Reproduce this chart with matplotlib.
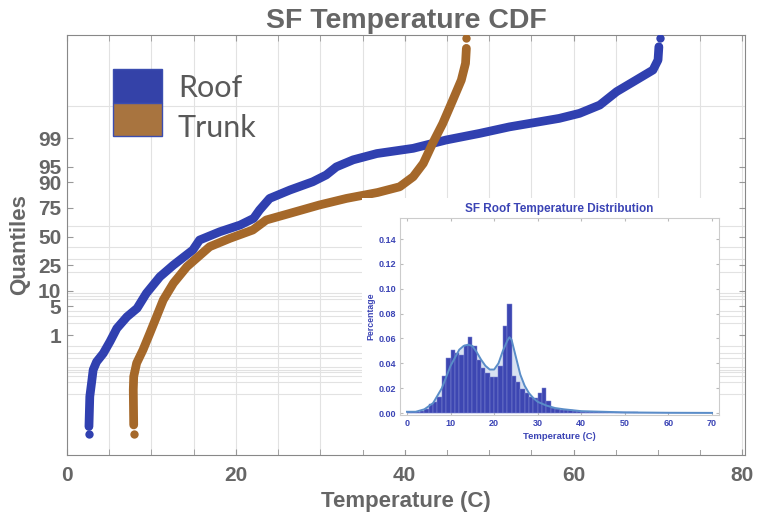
"""
SF temperature CDF on a normal-probability scale, with the roof
temperature histogram pasted as an inset.
"""
from statistics import NormalDist

import numpy as np
import matplotlib
matplotlib.use('Agg')
import matplotlib.pyplot as plt
from matplotlib.patches import Rectangle

# ── Data ─────────────────────────────────────────────────────
# CDF curves: temperature (C) vs cumulative percentage
roof_temp = [2.6, 2.6, 2.7, 2.9, 3.1, 3.5, 4.3, 5.1, 5.9, 7.1, 8.3, 9.4,
             11.0, 12.6, 14.9, 15.7, 18.1, 20.5, 22.1, 22.8, 24.0, 26.4,
             29.1, 30.7, 31.9, 33.9, 36.7, 41.0, 44.9, 48.9, 52.4, 58.3,
             60.7, 63.1, 65.1, 67.4, 69.4, 70.0, 70.1, 70.2]
roof_pct = [0.00015, 0.00036, 0.0078, 0.026, 0.082, 0.154, 0.29, 0.66,
            1.5, 2.9, 4.5, 9.0, 17.1, 25.0, 37.5, 46.7, 54.5, 60.7, 66.6,
            73.4, 81.6, 86.4, 90.2, 92.7, 95.0, 96.5, 97.5, 98.14, 98.87,
            99.26, 99.52, 99.737, 99.819, 99.905, 99.969, 99.989, 99.9958,
            99.99848, 99.99963, 99.999857]

trunk_temp = [7.9, 7.9, 7.85, 7.9, 8.25, 9.0, 9.8, 10.6, 11.4, 12.6, 14.2,
              16.9, 19.3, 22.0, 23.6, 26.4, 29.9, 33.1, 36.8, 39.4, 41.0,
              42.2, 43.3, 44.5, 45.7, 46.7, 47.2, 47.3, 47.2]
trunk_pct = [0.00015, 0.00043, 0.0146, 0.047, 0.14, 0.37, 1.1, 2.9, 6.7,
             13.5, 23.8, 40.5, 48.3, 56.1, 65.2, 70.8, 77.2, 81.6, 85.1,
             88.0, 92.1, 95.8, 98.61, 99.62, 99.937, 99.989, 99.99786,
             99.99956, 99.999857]

quantile_ticks = [1, 5, 10, 25, 50, 75, 90, 95, 99]
grid_levels = [0.01, 0.03, 0.05, 0.07, 0.08, 0.1, 0.2, 0.3, 0.5, 1, 2, 3,
               4, 5, 7, 8, 9, 10, 20, 30, 40, 60, 90, 99, 99.9]
series_names = ['Roof', 'Trunk']

# Inset: histogram (1 C bins starting at 0) and smoothed density
hist_left = list(range(0, 70))
hist_pct = [0.0005, 0.0008, 0.0012, 0.002, 0.0035, 0.0075, 0.009, 0.013,
            0.030, 0.044, 0.051, 0.048, 0.047, 0.055, 0.061, 0.054, 0.043,
            0.036, 0.032, 0.029, 0.029, 0.038, 0.070, 0.088, 0.030, 0.025,
            0.019, 0.016, 0.013, 0.012, 0.016, 0.020, 0.010, 0.004, 0.003,
            0.0028, 0.0025, 0.0022, 0.002, 0.0015, 0.0012, 0.001, 0.0008,
            0.0007, 0.0007, 0.0007, 0.0006, 0.0006, 0.0006, 0.0005, 0.0005,
            0.0005, 0.0005, 0.0004, 0.0004, 0.0004, 0.0004, 0.0004, 0.0003,
            0.0003, 0.0003, 0.0003, 0.0003, 0.0002, 0.0002, 0.0002, 0.0002,
            0.0002, 0.0002, 0.0002]
kde_temp = [0, 2, 4, 6, 8, 10, 12, 13, 14, 15, 16, 17, 18, 19, 20, 21, 22,
            23, 23.5, 24, 25, 26, 27, 28, 29, 30, 32, 34, 36, 40, 50, 60, 70]
kde_pct = [0.001, 0.001, 0.003, 0.008, 0.020, 0.038, 0.051, 0.054, 0.055,
           0.054, 0.049, 0.043, 0.038, 0.035, 0.035, 0.040, 0.050, 0.058,
           0.061, 0.059, 0.045, 0.031, 0.022, 0.016, 0.012, 0.009, 0.006,
           0.004, 0.003, 0.0015, 0.0005, 0.0002, 0.0001]

# ── Style ────────────────────────────────────────────────────
BLUE = '#3040b0'
ORANGE = '#a5682a'
LEG_BLUE = '#3442a8'
LEG_ORANGE = '#a8743f'
GRAY_TXT = '#666666'
INSET_BLUE = '#3b44b5'
BAR_BLUE = '#3d46b2'
KDE_LINE = '#5a8dc8'
GRID = '#e2e2e2'
FONT = 'Liberation Sans'

W, H = 758, 522


def to_z(pct):
    """percent -> standard normal quantile (probability scale)"""
    nd = NormalDist()
    return np.array([nd.inv_cdf(p / 100.0) for p in pct])


def fig_box(left, top, right, bottom):
    """pixel box -> figure fraction rect"""
    return [left / W, (H - bottom) / H, (right - left) / W, (bottom - top) / H]


fig = plt.figure(figsize=(W / 100, H / 100), dpi=100)
plt.rcParams['font.family'] = FONT

# ── Main CDF axes ────────────────────────────────────────────
ax = fig.add_axes(fig_box(67, 35, 745, 455), zorder=1)

for temp, pct, col in [(roof_temp, roof_pct, BLUE), (trunk_temp, trunk_pct, ORANGE)]:
    z = to_z(pct)
    ax.plot(temp[1:-1], z[1:-1], color=col, lw=6.3, solid_capstyle='round',
            solid_joinstyle='round', zorder=3)
    ax.plot([temp[0], temp[-1]], [z[0], z[-1]], 'o', color=col, ms=6,
            mec='none', zorder=3)

ax.set_xlim(0, 80.3)
ax.set_ylim(-5.16, 4.76)
ax.set_xticks([0, 20, 40, 60, 80])
ax.set_xticks(np.arange(5, 80, 5), minor=True)
ax.set_yticks(to_z(quantile_ticks))
ax.set_yticklabels([str(q) for q in quantile_ticks])
ax.set_yticks(to_z(grid_levels), minor=True)

ax.grid(which='both', axis='x', color=GRID, lw=0.8, zorder=0)
ax.grid(which='minor', axis='y', color=GRID, lw=0.8, zorder=0)
ax.tick_params(which='both', direction='in', top=True, right=True,
               length=4, color='#999999', labelsize=15, labelcolor=GRAY_TXT)
ax.tick_params(axis='y', which='minor', length=0)
ax.tick_params(axis='x', pad=8)
ax.tick_params(axis='y', pad=4)
for lab in ax.get_xticklabels() + ax.get_yticklabels():
    lab.set_fontweight('bold')
for sp in ax.spines.values():
    sp.set_color('#888888')

ax.set_title('SF Temperature CDF', fontsize=20.5, fontweight='bold',
             color=GRAY_TXT, pad=5)
ax.set_xlabel('Temperature (C)', fontsize=16, fontweight='bold',
              color=GRAY_TXT, labelpad=4)
ax.set_ylabel('Quantiles', fontsize=16, fontweight='bold',
              color=GRAY_TXT, labelpad=6)

# legend drawn as two stacked colour boxes with labels beside
ax.add_patch(Rectangle((0.0678, 0.838), 0.0723, 0.081, transform=ax.transAxes,
                       facecolor=LEG_BLUE, edgecolor='#3b4db0', lw=1, zorder=5))
ax.add_patch(Rectangle((0.0678, 0.7595), 0.0723, 0.0785, transform=ax.transAxes,
                       facecolor=LEG_ORANGE, edgecolor='#3b4db0', lw=1, zorder=5))
for name, yb in zip(series_names, [0.8524, 0.757]):
    ax.text(0.1637, yb, name, transform=ax.transAxes, fontsize=22,
            family='Lato', color='#595959', va='baseline', ha='left', zorder=5)

# ── Inset (white pasted panel) ───────────────────────────────
bg = fig.add_axes(fig_box(362, 198, 719, 450), zorder=2)
bg.set_facecolor('white')
bg.set_xticks([])
bg.set_yticks([])
for sp in bg.spines.values():
    sp.set_visible(False)

ax2 = fig.add_axes(fig_box(400, 218, 719, 415), zorder=3)
ax2.fill_between(kde_temp, kde_pct, color='#c9d5ec', alpha=0.7, lw=0, zorder=1)
ax2.bar(hist_left, hist_pct, width=1, align='edge', color=BAR_BLUE,
        edgecolor='#8088d2', linewidth=0.35, zorder=2)
ax2.plot(kde_temp, kde_pct, color=KDE_LINE, lw=1.4, zorder=3)

ax2.set_xlim(-1.6, 71.6)
ax2.set_ylim(-0.0016, 0.157)
ax2.set_xticks(np.arange(0, 71, 10))
ax2.set_yticks(np.arange(0, 0.141, 0.02))
ax2.set_yticklabels([f'{v:.2f}' for v in np.arange(0, 0.141, 0.02)])
ax2.tick_params(which='both', direction='in', top=True, right=True, length=2,
                color='#bbbbbb', labelsize=6.5, labelcolor=INSET_BLUE, pad=3)
for lab in ax2.get_xticklabels() + ax2.get_yticklabels():
    lab.set_fontweight('bold')
for sp in ax2.spines.values():
    sp.set_color('#cccccc')
    sp.set_linewidth(0.8)

ax2.set_title('SF Roof Temperature Distribution', fontsize=8.5,
              fontweight='bold', color=INSET_BLUE, pad=4)
ax2.set_xlabel('Temperature (C)', fontsize=6.8, fontweight='bold',
               color=INSET_BLUE, labelpad=3)
ax2.set_ylabel('Percentage', fontsize=6.3, fontweight='bold',
               color=INSET_BLUE, labelpad=2)

fig.savefig('out.png', dpi=100)
